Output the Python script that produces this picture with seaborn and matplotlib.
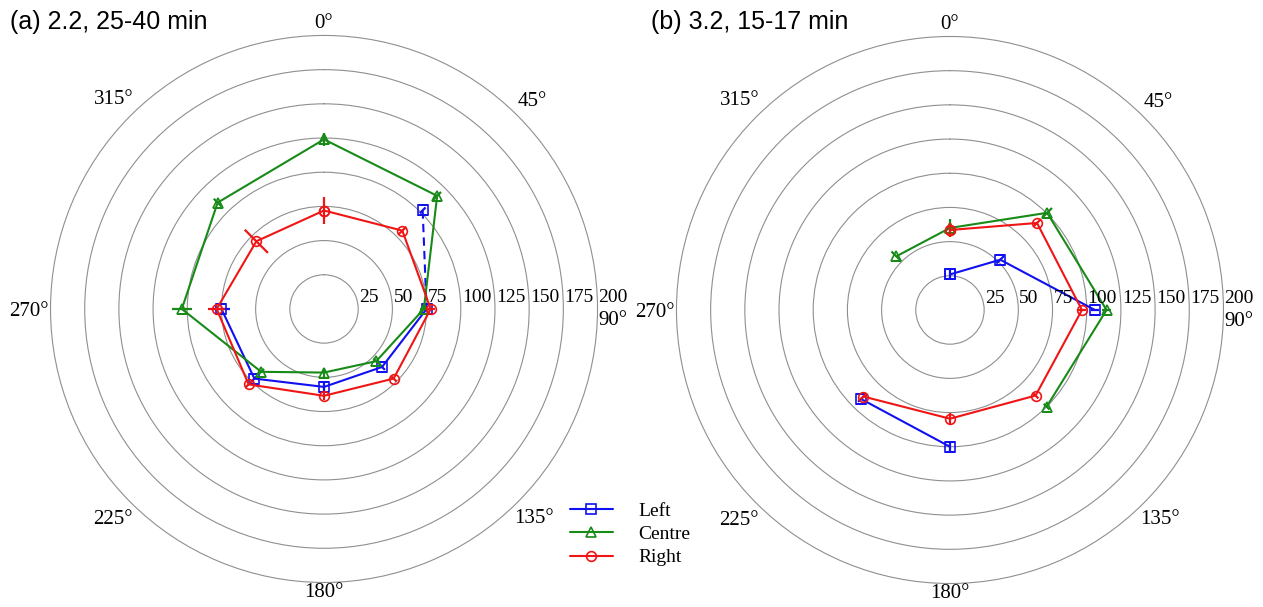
import numpy as np
import matplotlib.pyplot as plt
import seaborn as sns
from matplotlib.lines import Line2D

sns.set_style('white')
plt.rcParams['font.family'] = ['Liberation Serif', 'DejaVu Serif']
plt.rcParams['text.color'] = 'black'

nan = np.nan
angles = [0, 45, 90, 135, 180, 225, 270, 315]
rings = [25, 50, 75, 100, 125, 150, 175, 200]
names = ['Left', 'Centre', 'Right']
colors = ['#1010f0', '#178a17', '#f01515']
markers = ['s', '^', 'o']

# (a) 2.2, 25-40 min
a_left = [nan, 102, 75, 60, 57, 72, 75, nan]
a_centre = [124, 117, 73, 54, 46.5, 65, 104, 110]
a_right = [72, 81, 78, 72, 63.5, 78, 78.5, 70]
a_left_err = [0, 3, 3, 3, 3, 3, 6, 0]
a_centre_err = [5, 4, 3, 3, 3, 3, 7.5, 4]
a_right_err = [10, 4, 3, 3, 3, 3, 6, 12]
a_left_dashed = [45, 90]   # this link of Left is drawn dashed

# (b) 3.2, 15-17 min
b_left = [26, 52, 106, nan, 100, 92, nan, nan]
b_centre = [60, 100.5, 114.5, 100, nan, nan, nan, 55.5]
b_right = [58.5, 90, 96.5, 88.5, 79.5, 89.5, nan, nan]
b_left_err = [3, 4, 3, 0, 3, 3, 0, 0]
b_centre_err = [6.5, 5, 3, 3, 0, 0, 0, 5]
b_right_err = [5, 4, 3, 3, 4, 3, 0, 0]

# where the angle labels sit (radius in data units, extra vertical shift in px)
label_r = [209, 215, 211, 217, 207, 218, 216, 217]
label_dy = [0, 0, -12, 0, 0, 0, -3, 0]


def draw_panel(ax, series, errs, title, x_title, dashed=None):
    ax.set_theta_zero_location('N')
    ax.set_theta_direction(-1)
    th = np.deg2rad(angles + [360])
    for i, (vals, err) in enumerate(zip(series, errs)):
        col, mk = colors[i], markers[i]
        v = np.array(vals + vals[:1], dtype=float)
        solid = v.copy()
        if dashed is not None and i == 0:
            # the first end of the dashed link has no solid connection
            solid[angles.index(dashed[0])] = nan
            idx = [angles.index(a) for a in dashed]
            ax.plot(np.deg2rad(dashed), v[idx], color=col, lw=1.5, ls=(0, (4, 2.5)))
        ax.plot(th, solid, color=col, lw=1.5)
        ax.errorbar(th[:-1], vals, yerr=err, fmt='none', ecolor=col, elinewidth=1.6)
        ax.plot(th, v, ls='none', marker=mk, mfc='none', mec=col, ms=7, mew=1.2)

    ax.set_ylim(0, 200)
    ax.set_yticks(rings[:-1])
    ax.set_yticklabels([])
    ax.set_xticks([])
    ax.yaxis.grid(True, color='#8f8f8f', lw=0.8)
    ax.spines['polar'].set(color='#8f8f8f', lw=0.8)

    for r in rings:
        ax.annotate(str(r), xy=(np.pi / 2, r), xytext=(1, 11), textcoords='offset pixels',
                    ha='left', va='center', fontsize=14, annotation_clip=False)
    for a, r, dy in zip(angles, label_r, label_dy):
        ax.annotate(f'{a}°', xy=(np.deg2rad(a), r), xytext=(0, dy), textcoords='offset pixels',
                    ha='center', va='center', fontsize=15, annotation_clip=False)

    ax.figure.text(x_title, 1 - 22 / 607, title, ha='left', va='center', fontsize=18,
                   family=['Liberation Sans', 'DejaVu Sans'])


fig = plt.figure(figsize=(12.63, 6.07), dpi=100)
ax1 = fig.add_axes([0.04, 0.0404, 0.4331, 0.9012], projection='polar')
ax2 = fig.add_axes([0.5356, 0.0387, 0.4331, 0.9012], projection='polar')

draw_panel(ax1, [a_left, a_centre, a_right], [a_left_err, a_centre_err, a_right_err],
           '(a) 2.2, 25-40 min', 10 / 1263, dashed=a_left_dashed)
draw_panel(ax2, [b_left, b_centre, b_right], [b_left_err, b_centre_err, b_right_err],
           '(b) 3.2, 15-17 min', 651 / 1263)

handles = [Line2D([], [], color=c, lw=1.5, marker=m, mfc='none', mec=c, ms=7, mew=1.2)
           for c, m in zip(colors, markers)]
fig.legend(handles, names, loc='upper left', bbox_to_anchor=(570 / 1263, 1 - 502 / 607),
           frameon=False, fontsize=14, handlelength=2.2, handletextpad=1.3,
           labelspacing=0.3, borderpad=0, borderaxespad=0)

fig.savefig('out.png', dpi=100)
